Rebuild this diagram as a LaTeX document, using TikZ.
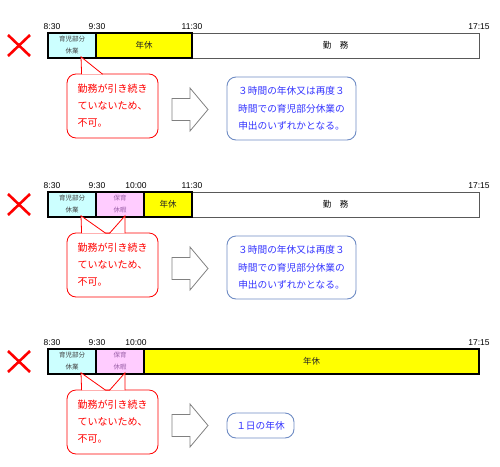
\documentclass[tikz,border=0pt]{standalone}
\usepackage{fontspec}
\setmainfont{Noto Sans CJK JP}
\newfontfamily\timefont{Liberation Sans}
\usetikzlibrary{positioning, calc}
\definecolor{segcyan}{HTML}{CCFFFF}
\definecolor{segpink}{HTML}{FFCCFF}
\definecolor{segyellow}{HTML}{FFFF00}
\definecolor{pinktext}{HTML}{9A5FA8}
\definecolor{notetext}{HTML}{3333FF}
\definecolor{noteline}{HTML}{6F8CC4}
\definecolor{ngred}{HTML}{FF0000}
\definecolor{arrowgray}{HTML}{808080}

\begin{document}
\begin{tikzpicture}[x=1pt, y=-1pt,
    seg/.style={draw=black, line width=1.6pt, minimum height=25pt, inner sep=0pt, align=center},
    work/.style={draw=black!65, line width=1pt, minimum height=25pt, inner sep=0pt, fill=white,
                 font=\fontsize{8.5}{10}\selectfont},
    smalltxt/.style={font=\fontsize{6.5}{12}\selectfont},
    yeartxt/.style={font=\fontsize{8.5}{10}\selectfont, text=black!85},
    tlabel/.style={anchor=base, inner sep=0pt, font=\timefont\fontsize{8.5}{10}\selectfont},
    callbox/.style={draw=ngred, line width=0.8pt, fill=white, rounded corners=9pt, text=ngred,
                    align=left, minimum width=91pt, minimum height=64pt, font=\fontsize{10}{17}\selectfont},
    pointer/.style={draw=ngred, line width=0.8pt, fill=white},
    notebox/.style={draw=noteline, line width=0.9pt, rounded corners=9pt, text=notetext,
                    align=center, font=\fontsize{9.7}{17.5}\selectfont},
    ngmark/.style={ngred, line width=2.6pt},
    blockarrow/.style={draw=arrowgray, line width=0.8pt, fill=white}]
  \useasboundingbox (0,0) rectangle (500,466);

  % case 1
  \node[work, minimum width=287pt] (w1) at (335.5,45.5) {勤　務};
  \node[seg, fill=segcyan, minimum width=48pt, smalltxt, text=black!75] (a1) at (72,45.5) {育児部分\\休業};
  \node[seg, fill=segyellow, minimum width=96pt, yeartxt] (b1) at (144,45.5) {年休};
  \node[tlabel] (t11) at (52,29) {8:30};
  \node[tlabel] (t12) at (97,29) {9:30};
  \node[tlabel] (t13) at (192,29) {11:30};
  \node[tlabel] (t14) at (479,29) {17:15};
  \draw[ngmark] (8,35) -- (30,56);
  \draw[ngmark] (30,35) -- (8,56);
  \node[callbox] (c1) at (112.5,106) {勤務が引き続き\\ていないため、\\不可。};
  \draw[pointer] ($(c1.north west)+(15,0.6)$) -- ($(a1.south)+(9,-2)$) -- ($(c1.north west)+(36,0.6)$);
  \draw[blockarrow] (172,98.5) -- (190,98.5) -- (190,88) -- (208,109.5) -- (190,131) -- (190,120.5) -- (172,120.5) -- cycle;
  \node[notebox, minimum width=129pt, minimum height=63pt] (n1) at (291.5,108.5)
    {３時間の年休又は再度３\\時間での育児部分休業の\\申出のいずれかとなる。};

  % case 2
  \node[work, minimum width=287pt] (w2) at (335.5,204.5) {勤　務};
  \node[seg, fill=segcyan, minimum width=48pt, smalltxt, text=black!75] (a2) at (72,204.5) {育児部分\\休業};
  \node[seg, fill=segpink, minimum width=48pt, smalltxt, text=pinktext] (p2) at (120,204.5) {保育\\休暇};
  \node[seg, fill=segyellow, minimum width=48pt, yeartxt] (b2) at (168,204.5) {年休};
  \node[tlabel] (t21) at (52,188) {8:30};
  \node[tlabel] (t22) at (97,188) {9:30};
  \node[tlabel] (t23) at (136,188) {10:00};
  \node[tlabel] (t24) at (192,188) {11:30};
  \node[tlabel] (t25) at (479,188) {17:15};
  \draw[ngmark] (8,194) -- (30,215);
  \draw[ngmark] (30,194) -- (8,215);
  \node[callbox] (c2) at (112.5,265) {勤務が引き続き\\ていないため、\\不可。};
  \draw[pointer] ($(c2.north west)+(15,0.6)$) -- ($(a2.south)+(9,-2)$) -- ($(c2.north west)+(39,0.6)$)
    -- ($(c2.north west)+(43,0.6)$) -- ($(p2.south)+(5,-2)$) -- ($(c2.north west)+(58.5,0.6)$);
  \draw[blockarrow, shift={(0,159)}] (172,98.5) -- (190,98.5) -- (190,88) -- (208,109.5) -- (190,131) -- (190,120.5) -- (172,120.5) -- cycle;
  \node[notebox, minimum width=129pt, minimum height=63pt] (n2) at (291.5,267.5)
    {３時間の年休又は再度３\\時間での育児部分休業の\\申出のいずれかとなる。};

  % case 3
  \node[seg, fill=segcyan, minimum width=48pt, smalltxt, text=black!75] (a3) at (72,361.5) {育児部分\\休業};
  \node[seg, fill=segpink, minimum width=48pt, smalltxt, text=pinktext] (p3) at (120,361.5) {保育\\休暇};
  \node[seg, fill=segyellow, minimum width=335pt, yeartxt] (b3) at (311.5,361.5) {年休};
  \node[tlabel] (t31) at (52,345) {8:30};
  \node[tlabel] (t32) at (97,345) {9:30};
  \node[tlabel] (t33) at (136,345) {10:00};
  \node[tlabel] (t34) at (479,345) {17:15};
  \draw[ngmark] (8,351) -- (30,372);
  \draw[ngmark] (30,351) -- (8,372);
  \node[callbox] (c3) at (112.5,422) {勤務が引き続き\\ていないため、\\不可。};
  \draw[pointer] ($(c3.north west)+(15,0.6)$) -- ($(a3.south)+(9,-2)$) -- ($(c3.north west)+(39,0.6)$)
    -- ($(c3.north west)+(43,0.6)$) -- ($(p3.south)+(5,-2)$) -- ($(c3.north west)+(58.5,0.6)$);
  \draw[blockarrow, shift={(0,316)}] (172,98.5) -- (190,98.5) -- (190,88) -- (208,109.5) -- (190,131) -- (190,120.5) -- (172,120.5) -- cycle;
  \node[notebox, minimum width=67pt, minimum height=25pt] (n3) at (260.5,425.5) {１日の年休};
\end{tikzpicture}
\end{document}
